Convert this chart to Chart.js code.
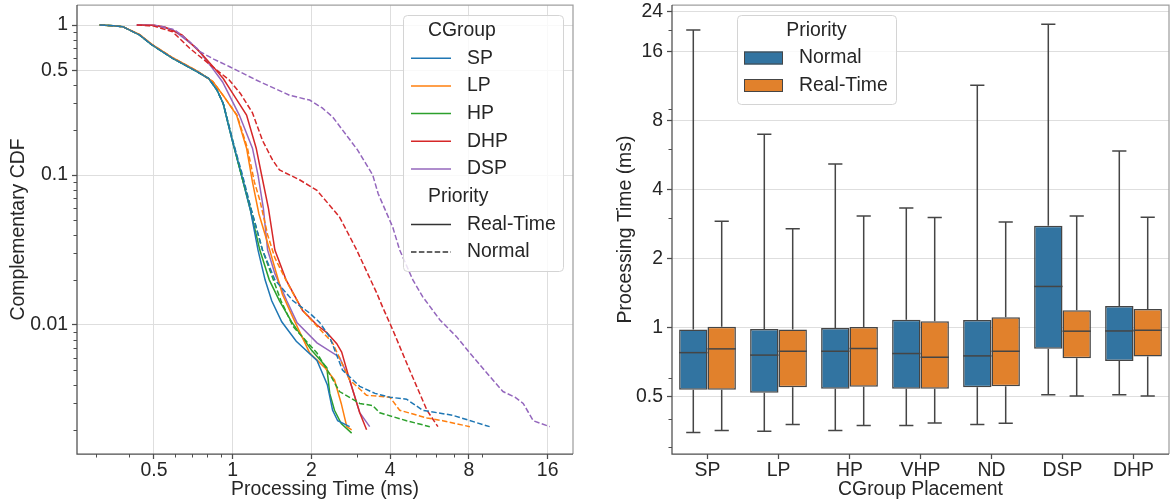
<!DOCTYPE html>
<html>
<head>
<meta charset="utf-8">
<script src="https://cdn.jsdelivr.net/npm/chart.js@4.4.1/dist/chart.umd.min.js"></script>
<style>
  html, body { margin: 0; padding: 0; background: #fff; }
  #wrap { position: relative; width: 1171px; height: 504px; }
  #left { position: absolute; left: 0; top: 0; }
  #right { position: absolute; left: 600px; top: 0; }
</style>
</head>
<body>
<div id="wrap">
  <canvas id="left" width="600" height="504"></canvas>
  <canvas id="right" width="571" height="504"></canvas>
</div>
<script>
// ---- left panel: CCDF of processing time ----
const cgroups = ["SP", "LP", "HP", "DHP", "DSP"];
const priorities = ["Real-Time", "Normal"];

const spRealTime = [[0.31,1],[0.35,0.99],[0.38,0.975],[0.44,0.86],[0.49,0.74],[0.59,0.60],[0.73,0.49],[0.81,0.44],[0.87,0.37],[0.92,0.30],[0.96,0.22],[1.0,0.166],[1.08,0.10],[1.17,0.058],[1.25,0.0316],[1.33,0.02],[1.41,0.0145],[1.54,0.0105],[1.75,0.0078],[2.10,0.0058],[2.30,0.0040],[2.41,0.0027],[2.52,0.0023],[2.80,0.0021]];
const lpRealTime = [[0.31,1],[0.35,0.99],[0.38,0.975],[0.44,0.865],[0.49,0.745],[0.59,0.605],[0.73,0.495],[0.84,0.42],[0.93,0.33],[1.035,0.251],[1.13,0.151],[1.19,0.09],[1.26,0.055],[1.385,0.0316],[1.55,0.016],[1.73,0.0105],[1.97,0.0065],[2.25,0.0052],[2.45,0.0043],[2.60,0.003],[2.73,0.0021],[2.85,0.002]];
const hpRealTime = [[0.31,1],[0.35,0.99],[0.38,0.975],[0.44,0.86],[0.49,0.74],[0.59,0.60],[0.73,0.49],[0.81,0.44],[0.87,0.37],[0.92,0.30],[0.96,0.22],[1.0,0.166],[1.08,0.10],[1.17,0.058],[1.27,0.0316],[1.38,0.02],[1.51,0.0145],[1.68,0.0105],[2.0,0.0068],[2.29,0.0052],[2.35,0.0035],[2.45,0.0027],[2.60,0.0022],[2.85,0.0019]];
const dhpRealTime = [[0.43,1],[0.50,0.995],[0.55,0.97],[0.64,0.86],[0.75,0.66],[0.84,0.53],[0.92,0.44],[1.0,0.35],[1.13,0.251],[1.23,0.151],[1.29,0.10],[1.37,0.06],[1.45,0.0316],[1.60,0.02],[1.85,0.0125],[2.10,0.01],[2.29,0.0089],[2.50,0.0075],[2.61,0.0066],[2.80,0.0043],[3.06,0.0026],[3.25,0.002]];
const dspRealTime = [[0.43,1],[0.50,0.995],[0.59,0.93],[0.73,0.70],[0.82,0.54],[0.915,0.417],[1.06,0.251],[1.19,0.151],[1.25,0.10],[1.31,0.06],[1.36,0.0316],[1.45,0.022],[1.61,0.0145],[1.76,0.0104],[2.10,0.0076],[2.56,0.0061],[2.80,0.0043],[3.06,0.0026],[3.34,0.0021]];

const spNormal = [[0.31,1],[0.35,0.99],[0.38,0.975],[0.44,0.86],[0.49,0.74],[0.59,0.60],[0.73,0.49],[0.81,0.44],[0.87,0.37],[0.92,0.30],[0.96,0.225],[1.0,0.17],[1.09,0.10],[1.18,0.058],[1.30,0.0316],[1.45,0.02],[1.70,0.0145],[1.97,0.012],[2.15,0.0104],[2.35,0.0083],[2.63,0.005],[3.06,0.0039],[3.5,0.0035],[3.99,0.0033],[4.62,0.0032],[5.33,0.0027],[6.93,0.0025],[9.6,0.0021]];
const lpNormal = [[0.31,1],[0.35,0.99],[0.38,0.975],[0.44,0.865],[0.49,0.745],[0.59,0.605],[0.73,0.495],[0.84,0.42],[0.93,0.33],[1.04,0.25],[1.14,0.15],[1.21,0.09],[1.27,0.068],[1.36,0.04],[1.45,0.028],[1.62,0.019],[1.85,0.0125],[2.10,0.0098],[2.41,0.0076],[2.80,0.0043],[3.25,0.0034],[3.99,0.0033],[4.35,0.0027],[5.53,0.0024],[6.35,0.0023],[8.07,0.0021]];
const hpNormal = [[0.31,1],[0.35,0.99],[0.38,0.975],[0.44,0.86],[0.49,0.74],[0.59,0.60],[0.73,0.49],[0.81,0.44],[0.87,0.37],[0.92,0.30],[0.96,0.225],[1.0,0.17],[1.08,0.10],[1.18,0.058],[1.30,0.0316],[1.53,0.0145],[1.70,0.0098],[2.10,0.0065],[2.35,0.0047],[2.56,0.0036],[3.06,0.003],[3.43,0.0029],[3.65,0.0026],[4.62,0.0023],[5.67,0.0021]];
const dhpNormal = [[0.43,1],[0.50,0.985],[0.59,0.90],[0.685,0.70],[0.84,0.525],[0.97,0.43],[1.07,0.35],[1.19,0.26],[1.30,0.17],[1.42,0.126],[1.51,0.108],[1.80,0.093],[2.10,0.079],[2.56,0.0526],[2.98,0.0316],[3.55,0.0164],[3.74,0.0132],[4.09,0.0093],[4.62,0.0056],[5.05,0.0039],[5.53,0.0027],[6.09,0.0021]];
const dspNormal = [[0.43,1],[0.52,0.99],[0.60,0.93],[0.685,0.774],[0.75,0.664],[0.85,0.59],[0.974,0.527],[1.23,0.43],[1.65,0.34],[1.97,0.316],[2.2,0.28],[2.41,0.244],[2.75,0.18],[3.0,0.147],[3.43,0.1],[3.6,0.075],[4.09,0.045],[4.35,0.0316],[4.89,0.0199],[5.33,0.0154],[6.2,0.0108],[7.2,0.0083],[8.07,0.0065],[9.35,0.0048],[10.8,0.0036],[12.0,0.0033],[12.9,0.003],[14.1,0.0023],[16.3,0.0021]];

const realTimeSeries = [spRealTime, lpRealTime, hpRealTime, dhpRealTime, dspRealTime];
const normalSeries = [spNormal, lpNormal, hpNormal, dhpNormal, dspNormal];

const ccdfXTicks = [0.5, 1, 2, 4, 8, 16];
const ccdfXLabels = ["0.5", "1", "2", "4", "8", "16"];
const ccdfYTicks = [0.01, 0.1, 0.5, 1];
const ccdfYLabels = ["0.01", "0.1", "0.5", "1"];
const ccdfXMinor = [0.3, 0.4, 0.6, 0.7, 0.8, 0.9, 3, 5, 6, 7, 9];
const ccdfYMinor = [0.002, 0.003, 0.004, 0.005, 0.006, 0.007, 0.008, 0.009, 0.02, 0.03, 0.04, 0.05, 0.06, 0.07, 0.08, 0.09, 0.2, 0.3, 0.4, 0.6, 0.7, 0.8, 0.9];

// ---- right panel: box plot ----
const placements = ["SP", "LP", "HP", "VHP", "ND", "DSP", "DHP"];
const normalLow    = [0.348, 0.352, 0.355, 0.373, 0.377, 0.508, 0.508];
const normalQ1     = [0.534, 0.518, 0.540, 0.540, 0.548, 0.806, 0.713];
const normalMedian = [0.776, 0.757, 0.787, 0.769, 0.751, 1.51, 0.965];
const normalQ3     = [0.980, 0.985, 0.995, 1.081, 1.078, 2.78, 1.241];
const normalHigh   = [19.9, 6.98, 5.17, 3.32, 11.43, 21.1, 5.89];
const rtLow    = [0.355, 0.377, 0.373, 0.382, 0.381, 0.502, 0.502];
const rtQ1     = [0.534, 0.548, 0.550, 0.540, 0.554, 0.734, 0.746];
const rtMedian = [0.806, 0.787, 0.809, 0.741, 0.787, 0.963, 0.972];
const rtQ3     = [1.008, 0.980, 1.005, 1.064, 1.108, 1.189, 1.204];
const rtHigh   = [2.91, 2.70, 3.07, 3.02, 2.89, 3.07, 3.03];

const boxYTicks = [0.5, 1, 2, 4, 8, 16, 24];
const boxYLabels = ["0.5", "1", "2", "4", "8", "16", "24"];
const boxYMinor = [0.3, 0.4, 0.6, 3, 6, 9, 20];

const tab10 = ["#1f77b4", "#ff7f0e", "#2ca02c", "#d62728", "#9467bd"];
const boxColors = ["#3274a1", "#e1812c"];
const FONT = '"Liberation Sans", Arial, sans-serif';
const TEXT = "#262626";
const GRID = "#dedede";
const DARK = "#4d4d4d";
const DASH = [5.5, 2.4];

Chart.defaults.font.family = FONT;
Chart.defaults.font.size = 19.4;
Chart.defaults.color = TEXT;

function fixedTicks(values) {
  return (scale) => { scale.ticks = values.map((v) => ({ value: v })); };
}

function roundRect(ctx, x, y, w, h, r) {
  ctx.beginPath();
  ctx.moveTo(x + r, y);
  ctx.arcTo(x + w, y, x + w, y + h, r);
  ctx.arcTo(x + w, y + h, x, y + h, r);
  ctx.arcTo(x, y + h, x, y, r);
  ctx.arcTo(x, y, x + w, y, r);
  ctx.closePath();
}

// spines + minor tick marks
function framePlugin(xMinor, yMinor) {
  return {
    id: "frame",
    afterDatasetsDraw(chart) {
      const { ctx, chartArea: a } = chart;
      ctx.save();
      ctx.lineWidth = 1.25;
      ctx.strokeStyle = "#a0a0a0";
      ctx.beginPath();
      ctx.moveTo(a.left, a.top); ctx.lineTo(a.right, a.top); ctx.lineTo(a.right, a.bottom);
      ctx.stroke();
      ctx.strokeStyle = DARK;
      ctx.beginPath();
      ctx.moveTo(a.left, a.top); ctx.lineTo(a.left, a.bottom); ctx.lineTo(a.right, a.bottom);
      ctx.stroke();
      ctx.lineWidth = 1;
      ctx.beginPath();
      xMinor.forEach((v) => {
        const px = Math.round(chart.scales.x.getPixelForValue(v)) + 0.5;
        ctx.moveTo(px, a.bottom); ctx.lineTo(px, a.bottom + 3.5);
      });
      yMinor.forEach((v) => {
        const py = Math.round(chart.scales.y.getPixelForValue(v)) + 0.5;
        ctx.moveTo(a.left - 3.5, py); ctx.lineTo(a.left, py);
      });
      ctx.stroke();
      ctx.restore();
    },
  };
}

const leftLegend = {
  id: "leftLegend",
  afterDatasetsDraw(chart) {
    const ctx = chart.ctx;
    ctx.save();
    roundRect(ctx, 403.5, 15.5, 160, 256, 4);
    ctx.fillStyle = "rgba(255,255,255,0.8)";
    ctx.fill();
    ctx.strokeStyle = "#d4d4d4";
    ctx.lineWidth = 1;
    ctx.stroke();
    ctx.font = "19.4px " + FONT;
    ctx.textBaseline = "middle";
    ctx.fillStyle = TEXT;
    const y0 = 30.5, step = 27.7;
    ctx.fillText("CGroup", 428, y0);
    cgroups.forEach((name, i) => {
      const y = y0 + step * (i + 1);
      ctx.strokeStyle = tab10[i];
      ctx.lineWidth = 1.5;
      ctx.setLineDash([]);
      ctx.beginPath(); ctx.moveTo(411, y); ctx.lineTo(451, y); ctx.stroke();
      ctx.fillText(name, 467, y);
    });
    ctx.fillText("Priority", 428, y0 + step * 6);
    priorities.forEach((name, i) => {
      const y = y0 + step * (7 + i);
      ctx.strokeStyle = "#333";
      ctx.lineWidth = 1.5;
      ctx.setLineDash(i === 0 ? [] : DASH);
      ctx.beginPath(); ctx.moveTo(411, y); ctx.lineTo(451, y); ctx.stroke();
      ctx.fillText(name, 467, y);
    });
    ctx.restore();
  },
};

const leftDatasets = [];
cgroups.forEach((name, i) => {
  leftDatasets.push({
    label: name + " Normal",
    data: normalSeries[i].map(([x, y]) => ({ x, y })),
    borderColor: tab10[i], borderDash: DASH, borderWidth: 1.5,
    pointRadius: 0, fill: false, tension: 0,
  });
});
cgroups.forEach((name, i) => {
  leftDatasets.push({
    label: name + " Real-Time",
    data: realTimeSeries[i].map(([x, y]) => ({ x, y })),
    borderColor: tab10[i], borderWidth: 1.5,
    pointRadius: 0, fill: false, tension: 0,
  });
});

new Chart(document.getElementById("left"), {
  type: "line",
  data: { datasets: leftDatasets },
  options: {
    responsive: false,
    animation: false,
    layout: { padding: { top: 5, right: 27, left: 0, bottom: 0 } },
    plugins: { legend: { display: false }, tooltip: { enabled: false } },
    scales: {
      x: {
        type: "logarithmic", min: 0.254, max: 20,
        afterBuildTicks: fixedTicks(ccdfXTicks),
        afterFit(s) { s.height = 50; s.paddingLeft = 0; s.paddingRight = 0; },
        ticks: { callback: (v, i) => ccdfXLabels[i], autoSkip: false, maxRotation: 0, padding: 0, color: TEXT },
        grid: { color: GRID, tickColor: DARK, tickLength: 5, tickWidth: 1.25 },
        border: { display: false },
        title: { display: true, text: "Processing Time (ms)", padding: { top: 0, bottom: 3 }, color: TEXT },
      },
      y: {
        type: "logarithmic", min: 0.00138, max: 1.36,
        afterBuildTicks: fixedTicks(ccdfYTicks),
        afterFit(s) { s.width = 77; s.paddingTop = 0; s.paddingBottom = 0; },
        ticks: { callback: (v, i) => ccdfYLabels[i], autoSkip: false, padding: 4, color: TEXT },
        grid: { color: GRID, tickColor: DARK, tickLength: 5, tickWidth: 1.25 },
        border: { display: false },
        title: { display: true, text: "Complementary CDF", padding: { top: 7, bottom: 0 }, color: TEXT },
      },
    },
  },
  plugins: [framePlugin(ccdfXMinor, ccdfYMinor), leftLegend],
});

// whiskers + medians for the box plot
const boxWhiskers = {
  id: "boxWhiskers",
  beforeDatasetsDraw(chart) {
    const { ctx } = chart;
    const ys = chart.scales.y;
    ctx.save();
    ctx.strokeStyle = "#454545";
    ctx.lineWidth = 1.5;
    chart.data.datasets.forEach((ds, d) => {
      chart.getDatasetMeta(d).data.forEach((bar, i) => {
        const x = bar.x, cap = bar.width / 4;
        const st = ds.stats;
        const yHi = ys.getPixelForValue(st.high[i]);
        const yQ3 = ys.getPixelForValue(st.q3[i]);
        const yLo = ys.getPixelForValue(st.low[i]);
        const yQ1 = ys.getPixelForValue(st.q1[i]);
        ctx.beginPath();
        ctx.moveTo(x, yQ3); ctx.lineTo(x, yHi);
        ctx.moveTo(x - cap, yHi); ctx.lineTo(x + cap, yHi);
        ctx.moveTo(x, yQ1); ctx.lineTo(x, yLo);
        ctx.moveTo(x - cap, yLo); ctx.lineTo(x + cap, yLo);
        ctx.stroke();
      });
    });
    ctx.restore();
  },
  afterDatasetsDraw(chart) {
    const { ctx } = chart;
    const ys = chart.scales.y;
    ctx.save();
    ctx.strokeStyle = "#454545";
    ctx.lineWidth = 1.5;
    chart.data.datasets.forEach((ds, d) => {
      chart.getDatasetMeta(d).data.forEach((bar, i) => {
        const y = ys.getPixelForValue(ds.stats.median[i]);
        ctx.beginPath();
        ctx.moveTo(bar.x - bar.width / 2, y); ctx.lineTo(bar.x + bar.width / 2, y);
        ctx.stroke();
      });
    });
    ctx.restore();
  },
};

const rightLegend = {
  id: "rightLegend",
  afterDraw(chart) {
    const ctx = chart.ctx;
    ctx.save();
    roundRect(ctx, 137.5, 15.5, 159, 89, 4);
    ctx.fillStyle = "rgba(255,255,255,0.8)";
    ctx.fill();
    ctx.strokeStyle = "#d4d4d4";
    ctx.lineWidth = 1;
    ctx.stroke();
    ctx.font = "19.4px " + FONT;
    ctx.textBaseline = "middle";
    ctx.fillStyle = TEXT;
    ctx.textAlign = "center";
    ctx.fillText("Priority", 216.5, 31);
    ctx.textAlign = "left";
    chart.data.datasets.forEach((ds, i) => {
      const y = 58 + 27.5 * i;
      ctx.fillStyle = ds.backgroundColor;
      ctx.fillRect(144, y - 6.5, 39, 13);
      ctx.strokeStyle = "#454545";
      ctx.lineWidth = 1;
      ctx.strokeRect(144.5, y - 6, 38, 12);
      ctx.fillStyle = TEXT;
      ctx.fillText(ds.label, 199, y);
    });
    ctx.restore();
  },
};

new Chart(document.getElementById("right"), {
  type: "bar",
  data: {
    labels: placements,
    datasets: [
      {
        label: "Normal",
        data: placements.map((_, i) => [normalQ1[i], normalQ3[i]]),
        backgroundColor: boxColors[0],
        stats: { low: normalLow, q1: normalQ1, median: normalMedian, q3: normalQ3, high: normalHigh },
      },
      {
        label: "Real-Time",
        data: placements.map((_, i) => [rtQ1[i], rtQ3[i]]),
        backgroundColor: boxColors[1],
        stats: { low: rtLow, q1: rtQ1, median: rtMedian, q3: rtQ3, high: rtHigh },
      },
    ],
  },
  options: {
    responsive: false,
    animation: false,
    layout: { padding: { top: 5, right: 2, left: 0, bottom: 0 } },
    datasets: { bar: { categoryPercentage: 0.8, barPercentage: 1.0, borderColor: "#454545", borderWidth: 1.5, borderSkipped: false } },
    plugins: { legend: { display: false }, tooltip: { enabled: false } },
    scales: {
      x: {
        type: "category",
        afterFit(s) { s.height = 50; s.paddingLeft = 0; s.paddingRight = 0; },
        ticks: { autoSkip: false, maxRotation: 0, padding: 0, color: TEXT },
        grid: { offset: false, drawOnChartArea: false, tickColor: DARK, tickLength: 5, tickWidth: 1.25 },
        border: { display: false },
        title: { display: true, text: "CGroup Placement", padding: { top: 0, bottom: 3 }, color: TEXT },
      },
      y: {
        type: "logarithmic", min: 0.28, max: 25.6,
        afterBuildTicks: fixedTicks(boxYTicks),
        afterFit(s) { s.width = 72; s.paddingTop = 0; s.paddingBottom = 0; },
        ticks: { callback: (v, i) => boxYLabels[i], autoSkip: false, padding: 4, color: TEXT },
        grid: { color: GRID, tickColor: DARK, tickLength: 5, tickWidth: 1.25 },
        border: { display: false },
        title: { display: true, text: "Processing Time (ms)", padding: { top: 14, bottom: 0 }, color: TEXT },
      },
    },
  },
  plugins: [boxWhiskers, framePlugin([], boxYMinor), rightLegend],
});
</script>
</body>
</html>
